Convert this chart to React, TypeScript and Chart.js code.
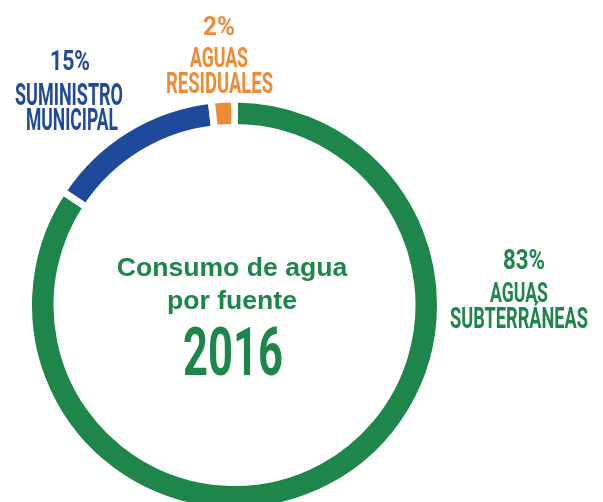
import React, { useEffect, useRef } from "react";
import { Chart, registerables } from "chart.js";

Chart.register(...registerables);

const categories = ["Aguas subterráneas", "Suministro municipal", "Aguas residuales"];
const shares = [84.3, 13.9, 1.8];
const percentLabels = ["83%", "15%", "2%"];
const nameLines = [["AGUAS", "SUBTERRÁNEAS"], ["SUMINISTRO", "MUNICIPAL"], ["AGUAS", "RESIDUALES"]];
const centerLines = ["Consumo de agua", "por fuente"];
const yearLabel = "2016";

const GREEN = "#1E864B";
const BLUE = "#1F4A9C";
const ORANGE = "#F08A34";
const colors = [GREEN, BLUE, ORANGE];

// label layout: [cx, baseline, fontSize, targetWidth] per line (percent line first)
const labelLayout = [
  [[524, 269, 27, 42], [519, 302, 27, 58], [519, 328, 29, 138]],
  [[70, 70, 28, 40], [69, 105, 31, 108], [72, 130, 31, 92]],
  [[219, 35, 25, 32], [219, 67, 28, 58], [219.5, 93, 29, 107]],
];

function drawFitted(ctx: CanvasRenderingContext2D, text: string, cx: number, base: number, size: number, width: number, color: string) {
  ctx.save();
  ctx.font = `bold ${size}px Roboto, "Liberation Sans", sans-serif`;
  const w = ctx.measureText(text).width;
  const k = w > 0 ? width / w : 1;
  ctx.translate(cx, base);
  ctx.scale(k, 1);
  ctx.textAlign = "center";
  ctx.textBaseline = "alphabetic";
  ctx.fillStyle = color;
  ctx.fillText(text, 0, 0);
  ctx.restore();
}

const textPlugin = {
  id: "textPlugin",
  afterDraw(chart: any) {
    const ctx: CanvasRenderingContext2D = chart.ctx;
    categories.forEach((_, i) => {
      const lines = [percentLabels[i], ...nameLines[i]];
      lines.forEach((t, j) => {
        const [cx, b, s, w] = labelLayout[i][j];
        drawFitted(ctx, t, cx, b, s, w, colors[i]);
      });
    });
    ctx.save();
    ctx.fillStyle = GREEN;
    ctx.textAlign = "center";
    ctx.font = `bold 26.6px "Liberation Sans", Arial, sans-serif`;
    ctx.fillText(centerLines[0], 232, 276);
    ctx.fillText(centerLines[1], 232, 309);
    ctx.restore();
    drawFitted(ctx, yearLabel, 233, 375, 66, 100, GREEN);
  },
};

export default function App() {
  const ref = useRef<HTMLCanvasElement>(null);
  useEffect(() => {
    document.body.style.margin = "0";
    document.body.style.overflow = "hidden";
    const chart = new Chart(ref.current!, {
      type: "doughnut",
      data: {
        labels: categories,
        datasets: [
          {
            data: shares,
            backgroundColor: colors,
            borderColor: "#ffffff",
            borderWidth: 7,
            hoverOffset: 0,
            clip: false,
          } as any,
        ],
      },
      options: {
        responsive: false,
        animation: false,
        radius: 206,
        cutout: "86.17%",
        rotation: 0,
        layout: { padding: { left: 0, right: 134, top: 108, bottom: 0 } },
        plugins: { legend: { display: false }, tooltip: { enabled: false }, title: { display: false } },
        events: [],
      } as any,
      plugins: [textPlugin],
    });
    return () => chart.destroy();
  }, []);
  return (
    <div style={{ width: 603, height: 502, background: "#fff" }}>
      <canvas ref={ref} width={603} height={502} style={{ display: "block" }} />
    </div>
  );
}
